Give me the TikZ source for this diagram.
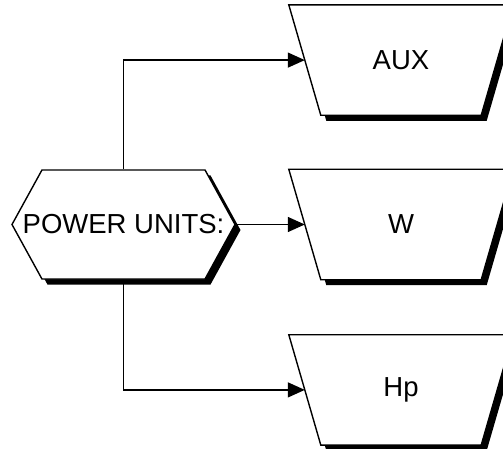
\documentclass[tikz,border=0pt]{standalone}
\usepackage{fontspec}
\setmainfont{Liberation Sans}
\usetikzlibrary{arrows.meta,positioning,shapes.symbols,shadows,backgrounds}

\begin{document}
\begin{tikzpicture}[x=1pt,y=1pt,line width=1.4pt,>={Triangle[length=17pt,width=15pt]},
  font=\fontsize{27.5}{31}\selectfont,
  dropped/.style={drop shadow={shadow xshift=5.5pt,shadow yshift=-5.5pt,opacity=1,fill=black}},
  unitbox/.style={minimum width=159pt,minimum height=109pt,inner sep=0pt},
  unitline/.style={draw=black,fill=white,line width=1.4pt},
  hubbox/.style={draw,fill=white,dropped,signal,signal to=west and east,signal pointer angle=122.4,minimum width=223pt,minimum height=109pt,inner sep=0pt}]
  \useasboundingbox (0,0) rectangle (503,-449);
  \clip (0,0) rectangle (503,-449);
  \node [hubbox, label=center:{POWER UNITS:}] (pu) at (123.5,-224.5) {};
  \node [unitbox, right=85pt of pu] (w) {W};
  \node [unitbox, above=54pt of w] (aux) {AUX};
  \node [unitbox, below=55pt of w] (hp) {Hp};

  % trapezium outlines with shadow
  \begin{scope}[on background layer]
    \foreach \u in {aux,w,hp}{
      \fill[black,transform canvas={shift={(5.5pt,-5.5pt)}}] ([xshift=-32pt]\u.north west) -- ([xshift=32pt]\u.north east) -- (\u.south east) -- (\u.south west) -- cycle;
      \path[unitline] ([xshift=-32pt]\u.north west) -- ([xshift=32pt]\u.north east) -- (\u.south east) -- (\u.south west) -- cycle;
      \coordinate (\u-in) at ([xshift=-16pt]\u.west);
    }
  \end{scope}

  \draw[->] (pu.north) |- (aux-in);
  \draw[->] (pu.east) -- (w-in);
  \draw[->] (pu.south) |- (hp-in);
\end{tikzpicture}
\end{document}
